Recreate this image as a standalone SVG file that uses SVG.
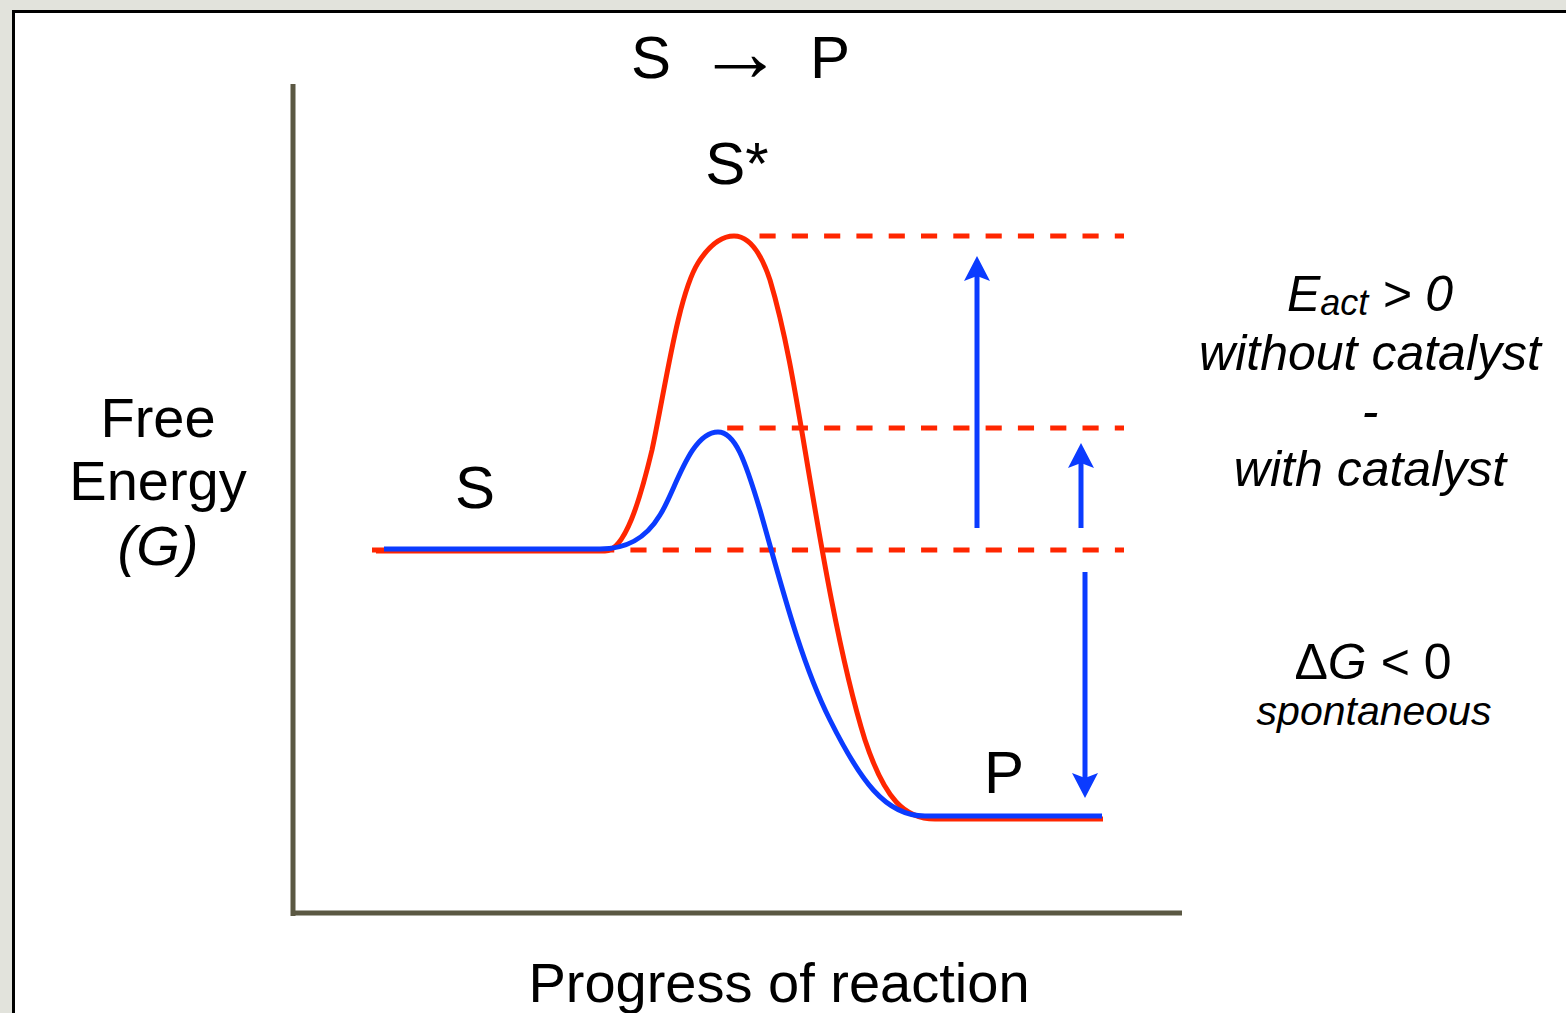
<svg xmlns="http://www.w3.org/2000/svg" width="1566" height="1013" viewBox="0 0 1566 1013">
  <style>
    text { font-family: "Liberation Sans", Arial, sans-serif; fill: #000; }
    .lbl { font-size: 60px; }
    .axis { font-size: 56px; }
    .note { font-size: 50px; font-style: italic; }
    .curve { fill: none; stroke-width: 5; stroke-linejoin: round; }
    .red { stroke: #ff2600; }
    .blue { stroke: #0b3bff; }
    .dash { fill: none; stroke: #ff2600; stroke-width: 5; stroke-dasharray: 16.15 16.15; }
    .arrow { fill: none; stroke: #0b3bff; stroke-width: 5; marker-end: url(#head); }
    .ax { fill: none; stroke: #5b5843; stroke-width: 5; }
  </style>
  <defs>
    <marker id="head" markerUnits="userSpaceOnUse" markerWidth="30" markerHeight="30" viewBox="0 -15 30 30" refX="5" refY="0" orient="auto">
      <path d="M0,-13 L25,0 L0,13 L5,0 Z" fill="#0b3bff"/>
    </marker>
  </defs>

  <rect x="0" y="0" width="1566" height="1013" fill="#e2e3dc"/>
  <rect id="frame" x="13.5" y="11.5" width="1600" height="1100" fill="#fff" stroke="#000" stroke-width="3"/>

  <g id="axes">
    <path class="ax" d="M293,84 V916"/>
    <path class="ax" d="M291,913 H1182"/>
  </g>

  <g id="levels">
    <path class="dash" d="M759.5,236 H1124"/>
    <path class="dash" d="M727.2,428 H1124"/>
    <path class="dash" d="M372,550 H1124"/>
  </g>

  <g id="curves">
    <path id="uncatalysed" class="curve red" d="M376,551 L605,551 C625,551 640,500 652,450 C665,390 678,295 698,263 C710,244 721,236 734,236 C748,236 760,250 770,280 C785,330 795,390 805,450 C820,540 840,660 865,740 C885,800 905,819 935,819 L1103,819"/>
    <path id="catalysed" class="curve blue" d="M384,549 L600,549 C625,549 645,540 660,515 C675,492 690,432 718,432 C735,432 745,460 760,510 C780,580 800,660 830,720 C860,780 885,816 925,816 L1102,816"/>
  </g>

  <g id="connectors">
    <path class="arrow" d="M977,528 V276"/>
    <path class="arrow" d="M1081,528 V463"/>
    <path class="arrow" d="M1085,572 V778"/>
  </g>

  <g id="title">
    <text class="lbl" x="631" y="78">S</text>
    <text x="740" y="81" text-anchor="middle" font-family="'DejaVu Sans', sans-serif" font-size="86" font-weight="200">→</text>
    <text class="lbl" x="810" y="78">P</text>
  </g>
  <g id="node-transition"><text class="lbl" x="737" y="184" text-anchor="middle">S*</text></g>
  <g id="node-substrate"><text class="lbl" x="475" y="508" text-anchor="middle">S</text></g>
  <g id="node-product"><text class="lbl" x="1004" y="793" text-anchor="middle">P</text></g>

  <g id="y-label">
    <text class="axis" x="158" y="437" text-anchor="middle">Free</text>
    <text class="axis" x="158" y="500" text-anchor="middle">Energy</text>
    <text class="axis" x="158" y="565" text-anchor="middle" font-style="italic">(G)</text>
  </g>
  <g id="x-label"><text class="axis" x="779" y="1002" text-anchor="middle">Progress of reaction</text></g>

  <g id="activation-note">
    <text class="note" x="1370" y="311" text-anchor="middle">E<tspan font-size="36" dy="4">act</tspan><tspan dy="-4"> &gt; 0</tspan></text>
    <text class="note" x="1370" y="370" text-anchor="middle">without catalyst</text>
    <text class="note" x="1370" y="428" text-anchor="middle">-</text>
    <text class="note" x="1370" y="486" text-anchor="middle">with catalyst</text>
  </g>
  <g id="free-energy-note">
    <text x="1373" y="679" text-anchor="middle" font-size="50">Δ<tspan font-style="italic">G</tspan> &lt; 0</text>
    <text x="1374" y="725" text-anchor="middle" font-size="41" font-style="italic">spontaneous</text>
  </g>
</svg>
